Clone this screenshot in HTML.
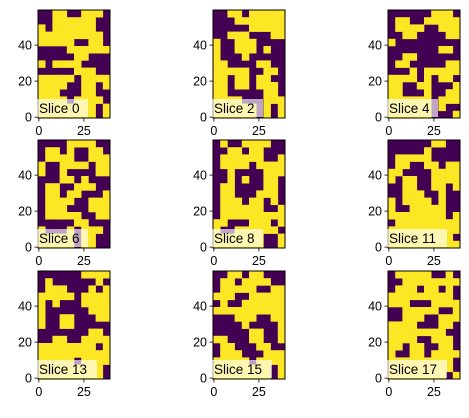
<!DOCTYPE html>
<html><head><meta charset="utf-8">
<style>
html,body{margin:0;padding:0;background:#fff;}
svg text{font-family:"Liberation Sans","DejaVu Sans",sans-serif;}
</style></head>
<body>
<svg id="fig" width="469" height="413" viewBox="0 0 469 413" xmlns="http://www.w3.org/2000/svg"></svg>
<script>
const sliceLabels = ["Slice 0","Slice 2","Slice 4","Slice 6","Slice 8","Slice 11","Slice 13","Slice 15","Slice 17"];
const xTicks = [0,25];
const yTicks = [0,20,40];
// 10 cols x 15 rows per slice, top row first (1 = yellow, 0 = purple)
const slice0 = ["0011001110","0011111100","1011111100","1111111110","1111100110","0000111111","0000011000","1011110000","0000011100","1111101111","1111001101","1110001100","1111011110","1111111101","1111111101"];
const slice2 = ["0011011111","0001111111","0000011111","0011100011","1001110000","1001110100","1000100000","1100001100","1111100110","1101101100","1101101110","1100000110","1111000111","1111110101","1111110101"];
const slice4 = ["0000001110","0110011111","0111100111","0011000011","1000000000","0000000110","0011000000","0110000011","0001011111","1111010110","1100110001","1100010011","1111110111","1111110100","1111110001"];
const slice6 = ["0000111100","0110100110","0111100111","1001111011","1001000011","0001101000","0110011100","0110110001","0111100111","0111000111","0111110011","0000011000","1000101110","1111101100","1111101100"];
const slice8 = ["0100111100","0011011000","0111111001","0111101111","0010000111","0010100110","0110000110","0110001110","0111011010","0111111001","0111111111","1100011101","1001111110","1111111001","1111111001"];
const slice11 = ["0000001100","0000010000","0111110000","0110011011","1100001111","1011001111","0011001101","0011100100","1011110100","1001111100","1111111101","0111111111","1111111111","1111111110","1111111111"];
const slice13 = ["0000001111","0100000010","0111000101","1111101111","1010001111","1000000111","1001100011","1001100000","0000000110","0011001111","1111111101","1111111111","1111101111","1111111110","1111111110"];
const slice15 = ["0011011000","0110111100","0111110011","1110011111","0100111111","1111111111","0001110011","0000100001","0000011001","1100011001","0110001100","0111000111","1111101111","1111111101","1111111101"];
const slice17 = ["0111110010","0011111111","0111011010","1111111110","1110001111","0011111001","0011100111","1111000110","1111111100","1111001110","1101100110","1001101111","1111111110","1111111110","1111111101"];
const slices = [slice0,slice2,slice4,slice6,slice8,slice11,slice13,slice15,slice17];

const NS="http://www.w3.org/2000/svg";
const svg=document.getElementById('fig');
const colLeft=[38,213,388], rowTop=[10,140,271];
const S=1.8, W=40, H=60, cellU=4;
function mk(t,a,p){const e=document.createElementNS(NS,t);for(const k in a)e.setAttribute(k,a[k]);(p||svg).appendChild(e);return e;}

slices.forEach((grid,i)=>{
  const L=colLeft[i%3], T=rowTop[Math.floor(i/3)];
  const g=mk('g',{});
  
  
  const xs=v=>L+(v+0.5)*S;
  const ys=v=>T+H*S-(v+0.5)*S;
  const bg=mk('rect',{x:L,y:T,width:W*S,height:H*S,fill:'#440154'},g);
  
  
  grid.forEach((row,r)=>{
    for(let c=0;c<row.length;c++){
      if(row[c]==='1'){
        const yTop=H-(r+1)*cellU;
        const cell=mk('rect',{x:(xs(c*cellU-0.5)).toFixed(2),y:(ys(yTop+cellU-0.5)).toFixed(2),width:(cellU*S+0.3).toFixed(2),height:(cellU*S+0.3).toFixed(2),fill:'#fde725'},g);
        
        
      }
    }
  });
  const fr=mk('rect',{x:L,y:T,width:W*S,height:H*S,fill:'none',stroke:'#000','stroke-width':1},g);
  
  
  yTicks.forEach(v=>{
    const y=ys(v);
    const tk=mk('line',{x1:L-3.5,x2:L,y1:y,y2:y,stroke:'#000','stroke-width':0.8},g);
    
    
    const tl=mk('text',{x:L-6,y:y+4.5,'font-size':12.5,'text-anchor':'end',fill:'#000'},g);
    tl.textContent=v;
    
    
  });
  xTicks.forEach(v=>{
    const x=xs(v);
    const tk=mk('line',{x1:x,x2:x,y1:T+H*S,y2:T+H*S+3.5,stroke:'#000','stroke-width':0.8},g);
    
    
    const tl=mk('text',{x:x,y:T+H*S+17,'font-size':12.5,'text-anchor':'middle',fill:'#000'},g);
    tl.textContent=v;
    
    
  });
  const lab=sliceLabels[i];
  const bw=lab.length>7?60:51;
  const box=mk('rect',{x:L-1,y:T+H*S-19,width:bw,height:18,fill:'#fff','fill-opacity':0.65},g);
  
  
  const t=mk('text',{x:L+1,y:T+H*S-5,'font-size':13.5,fill:'#000'},g);
  t.textContent=lab;
  
  
});
</script>
</body></html>
